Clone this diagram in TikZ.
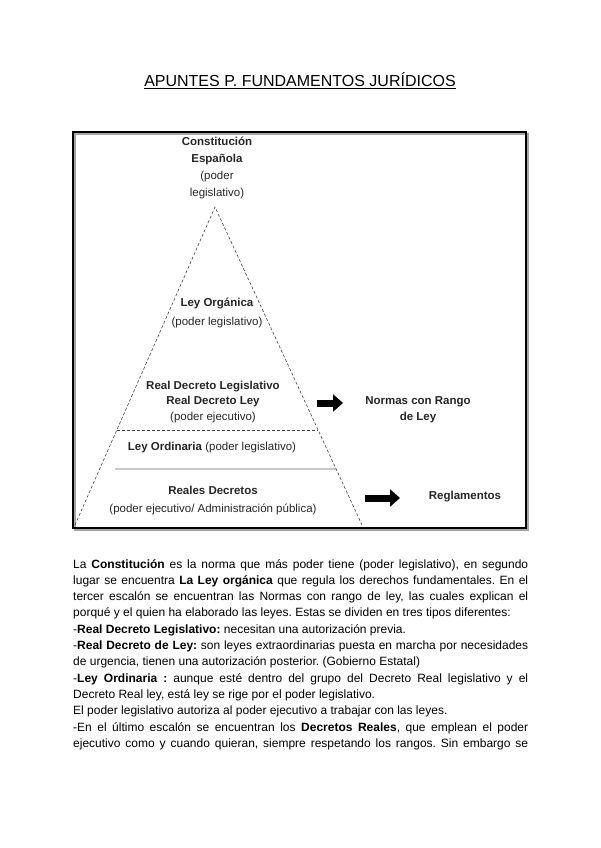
\documentclass[tikz,border=0pt]{standalone}
\usepackage{fontspec}
\setmainfont{Liberation Sans}
\usetikzlibrary{arrows.meta,calc}
\frenchspacing
\begin{document}
\begin{tikzpicture}[x=1pt,y=-1pt,
  lbl/.style={align=center,inner sep=0pt,text=black!85},
  side/.style={dash pattern=on 3pt off 2pt,line width=0.6pt,draw=black!75},
  blockarrow/.style={line width=7pt,-{Triangle[length=10pt,width=17pt]}},
]
\useasboundingbox (0,0) rectangle (600,848);
% title
\node[font=\fontsize{16}{19}\selectfont,inner sep=0pt,anchor=base] (title) at (300,87)
  {\underline{APUNTES P. FUNDAMENTOS JURÍDICOS}};
% frame
\draw[line width=1.2pt,black!35] (75,134) rectangle (528,530);
\draw[line width=2.2pt] (73,132) rectangle (526,528);
% pyramid
\coordinate (apex) at (215,207);
\coordinate (bl) at (75,525);
\coordinate (br) at (362,525);
\draw[side] (bl) -- (apex) -- (br);
\coordinate (dl) at ($(apex)!0.701!(bl)$);
\coordinate (dr) at ($(apex)!0.701!(br)$);
\draw[side] (dl) -- (dr);
\coordinate (sl) at (115,469);
\coordinate (sr) at ($(apex)!0.824!(br)$);
\draw[line width=0.8pt,black!60] (sl) -- (sr);
% labels
\node[lbl,font=\fontsize{11.5}{16.7}\selectfont] (ce) at (217,168)
  {\textbf{Constitución}\\\textbf{Española}\\(poder\\legislativo)};
\node[lbl,font=\fontsize{11.5}{19.5}\selectfont] (lo) at (217,313)
  {\textbf{Ley Orgánica}\\(poder legislativo)};
\node[lbl,font=\fontsize{11.5}{15.7}\selectfont] (rdl) at (213,402)
  {\textbf{Real Decreto Legislativo}\\\textbf{Real Decreto Ley}\\(poder ejecutivo)};
\node[lbl,font=\fontsize{11.5}{16}\selectfont,anchor=base] (lord) at (212,450)
  {\textbf{Ley Ordinaria} (poder legislativo)};
\node[lbl,font=\fontsize{11.5}{18}\selectfont] (rdc) at (213,501)
  {\textbf{Reales Decretos}\\(poder ejecutivo/ Administración pública)};
\node[lbl,font=\fontsize{11.5}{16}\selectfont] (nr) at (418,410)
  {\textbf{Normas con Rango}\\\textbf{de Ley}};
\node[lbl,font=\fontsize{11.5}{16}\selectfont] (reg) at (465,497)
  {\textbf{Reglamentos}};
% arrows
\coordinate (a1s) at (317,403);
\coordinate (a1e) at (343,403);
\draw[blockarrow] (a1s) -- (a1e);
\coordinate (a2s) at (365,498);
\coordinate (a2e) at (400,498);
\draw[blockarrow] (a2s) -- (a2e);
% body text
\node[anchor=north west,inner sep=0pt,text width=455pt,align=justify,
  font=\fontsize{12}{16.3}\selectfont] (body) at (73,559)
  {\hyphenpenalty=10000 \tolerance=10000 \frenchspacing
  La \textbf{Constitución} es la norma que más poder tiene (poder legislativo), en segundo\linebreak
  lugar se encuentra \textbf{La Ley orgánica} que regula los derechos fundamentales. En el\linebreak
  tercer escalón se encuentran las Normas con rango de ley, las cuales explican el\linebreak
  porqué y el quien ha elaborado las leyes. Estas se dividen en tres tipos diferentes:\par
  -\textbf{Real Decreto Legislativo:} necesitan una autorización previa.\par
  -\textbf{Real Decreto de Ley:} son leyes extraordinarias puesta en marcha por necesidades\linebreak
  de urgencia, tienen una autorización posterior. (Gobierno Estatal)\par
  -\textbf{Ley Ordinaria :} aunque esté dentro del grupo del Decreto Real legislativo y el\linebreak
  Decreto Real ley, está ley se rige por el poder legislativo.\par
  El poder legislativo autoriza al poder ejecutivo a trabajar con las leyes.\par
  -En el último escalón se encuentran los \textbf{Decretos Reales}, que emplean el poder\linebreak
  ejecutivo como y cuando quieran, siempre respetando los rangos. Sin embargo se\parfillskip=0pt\par};
\end{tikzpicture}
\end{document}
